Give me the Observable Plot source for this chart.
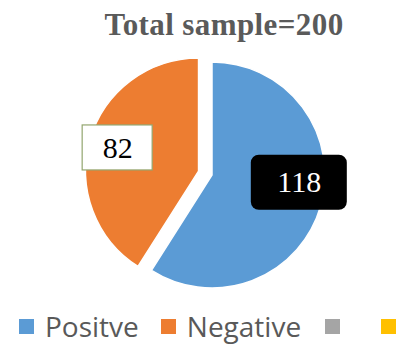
<!DOCTYPE html>
<html><head><meta charset="utf-8">
<script src="https://cdn.jsdelivr.net/npm/d3@7"></script>
<script src="https://cdn.jsdelivr.net/npm/@observablehq/plot@0.6"></script>
<style>
html,body{margin:0;padding:0;background:#fff;width:401px;height:345px;overflow:hidden}
#title{position:absolute;left:0;top:0;width:401px;height:44px;box-sizing:border-box;padding:10px 0 0 47px;text-align:center;
  font-family:"Liberation Serif","Times New Roman",serif;font-weight:bold;font-size:31px;line-height:30px;letter-spacing:0.4px;color:#5a5a5a;white-space:nowrap}
#chart{position:absolute;left:0;top:44px}
#legend{position:absolute;left:0;top:311px;width:401px;height:30px;display:flex;align-items:center;overflow:visible}
#legend .lg-swatches-wrap{min-height:0 !important;margin:0 !important;padding-left:19px;flex-wrap:nowrap !important;line-height:30px;height:30px}
#legend .lg-swatch{margin-right:30px !important;line-height:30px}
#legend .lg-swatch:nth-child(2){margin-right:22px !important}
#legend .lg-swatch:nth-child(3){margin-right:24px !important}
#legend .lg-swatch > svg{margin-right:11px !important}
</style>
</head><body>
<div id="title"></div>
<div id="chart"></div>
<div id="legend"></div>
<script>
// ---- data ----
const titleText = "Total sample=200";
const categories = ["Positve", "Negative"];
const values = [118, 82];
const legendLabels = ["Positve", "Negative", "", ""];
const colors = ["#5b9bd5", "#ed7d31", "#a5a5a5", "#ffc000"];

// ---- layout constants ----
const W = 401, H = 265;
const R = 113;            // pie radius in px
const CX = 212, CY = 131; // pie centre in px (within svg)
const EXPLODE = 0.124;    // explosion of Negative slice, fraction of radius

document.getElementById("title").textContent = titleText;

const rows = categories.map((c, i) => ({category: c, value: values[i]}));
const pie = d3.pie().sort(null).value(d => d.value);
const arcs = pie(rows).map((a) => {
  const mid = (a.startAngle + a.endAngle) / 2;
  const off = a.data.category === "Negative" ? EXPLODE : 0;
  const cx = Math.sin(mid) * off, cy = Math.cos(mid) * off;
  const k = a.data.category === "Negative" ? 0.75 : 0.8;
  return {startAngle: a.startAngle, endAngle: a.endAngle, category: a.data.category, value: a.data.value,
          cx, cy, lx: cx + Math.sin(mid) * k, ly: cy + Math.cos(mid) * k};
});

const legendKeys = legendLabels.map((l, i) => l || ("blank" + i));
const colorScale = Plot.scale({color: {type: "ordinal", domain: legendKeys, range: colors}});

const xDomain = [(0 - CX) / R, (W - CX) / R];
const yDomain = [-(H - CY) / R, CY / R];

function wedges(index, scales) {
  const x = scales && typeof scales.x === "function" ? scales.x : (v => CX + v * R);
  const y = scales && typeof scales.y === "function" ? scales.y : (v => CY - v * R);
  const r = x(1) - x(0);
  const arcGen = d3.arc().innerRadius(0).outerRadius(r);
  const g = d3.create("svg:g");
  g.selectAll("path").data(arcs).join("path")
    .attr("transform", d => `translate(${x(d.cx)},${y(d.cy)})`)
    .attr("d", arcGen)
    .attr("fill", d => colorScale.apply(d.category))
    .attr("stroke", "#fff").attr("stroke-width", 1.5);
  return g.node();
}

const neg = arcs.filter(d => d.category === "Negative");
const pos = arcs.filter(d => d.category === "Positve");

const chart = Plot.plot({
  width: W, height: H, margin: 0,
  style: {background: "transparent", overflow: "visible"},
  x: {domain: xDomain, axis: null},
  y: {domain: yDomain, axis: null},
  marks: [
    wedges,
    Plot.rect(neg, {x1: d => d.lx - 35 / R, x2: d => d.lx + 35 / R, y1: d => d.ly - 22.5 / R, y2: d => d.ly + 22.5 / R,
      fill: "#fff", stroke: "#93a66f", strokeWidth: 1.2}),
    Plot.text(neg, {x: "lx", y: "ly", text: d => String(d.value), fill: "#000",
      fontFamily: "Liberation Serif", fontSize: 30}),
    Plot.rect(pos, {x1: d => d.lx - 48 / R, x2: d => d.lx + 48 / R, y1: d => d.ly - 27.5 / R, y2: d => d.ly + 27.5 / R,
      fill: "#000", rx: 8, dy: -18}),
    Plot.text(pos, {x: "lx", y: "ly", text: d => String(d.value), fill: "#fff", dy: -18,
      fontFamily: "Liberation Serif", fontSize: 30})
  ]
});
document.getElementById("chart").appendChild(chart);

const legend = Plot.legend({
  color: {type: "ordinal", domain: legendKeys, range: colors},
  legend: "swatches", swatchSize: 15, className: "lg",
  tickFormat: d => (d.startsWith("blank") ? "" : d),
  style: {fontFamily: "'Open Sans', sans-serif", fontSize: "28px", color: "#595959"}
});
document.getElementById("legend").appendChild(legend);
</script>
</body></html>
